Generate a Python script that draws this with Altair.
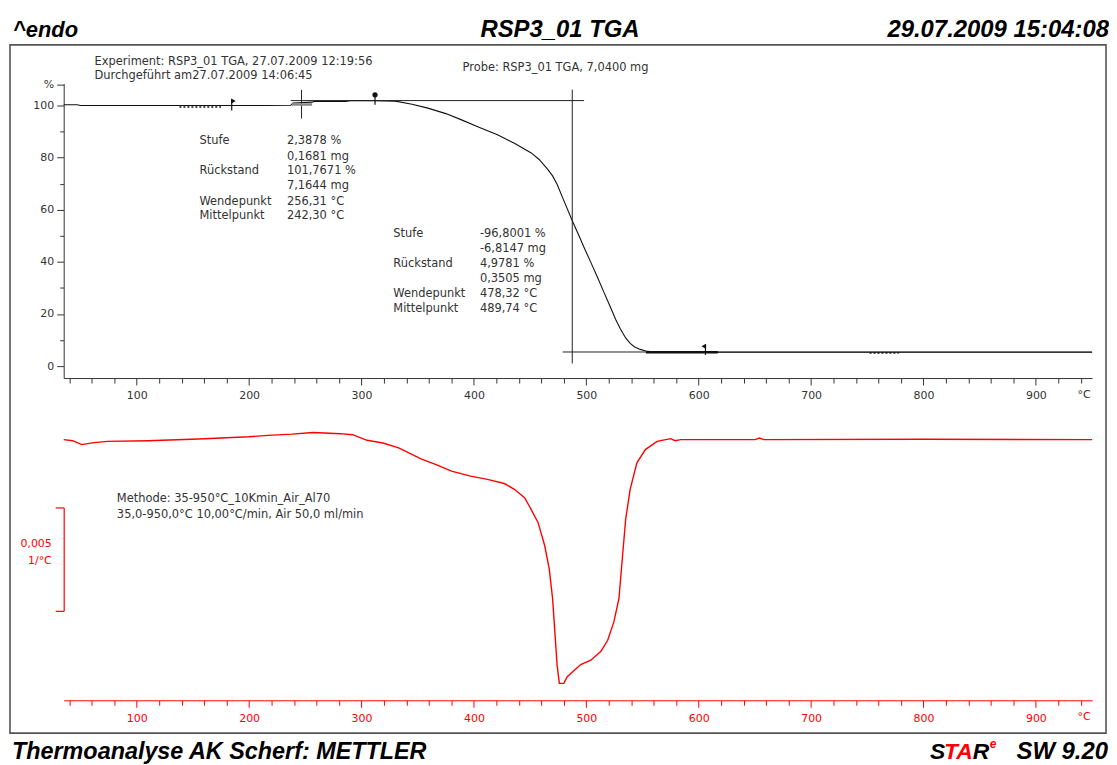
import altair as alt
import pandas as pd

# ---------------- data ----------------
# TGA curve: temperature (°C) and mass (%)
tga_temp = [35, 47, 50, 100, 140, 185, 215, 237, 239, 256, 258, 286, 290, 312, 330, 345,
            359, 375, 389, 405, 421, 436, 451, 458, 465.5, 470, 474, 480, 487.6, 493, 498,
            504, 510, 516, 521.5, 526, 530, 535, 539, 543, 548, 553, 560, 600, 700, 800, 950]
tga_pct = [100.3, 100.3, 100.0, 100.0, 100.0, 100.0, 100.0, 100.1, 101.0, 101.3, 101.6, 101.6,
           101.9, 101.9, 101.7, 100.5, 99.0, 96.9, 94.5, 91.6, 88.8, 85.5, 81.8, 79.3, 75.6,
           73.0, 69.8, 63.5, 55.7, 50.5, 45.5, 39.8, 34.0, 28.0, 22.6, 18.0, 14.5, 10.8, 8.7,
           7.3, 6.4, 5.8, 5.4, 5.3, 5.3, 5.3, 5.3]

# DTG curve: temperature (°C) and derivative (10^-3 1/°C)
dtg_temp = [35, 43, 51, 62, 74, 110, 155, 200, 217, 238, 257, 281, 292, 305, 319, 333, 353,
            368, 380, 397, 412, 427, 436, 445, 450, 457, 463, 467, 470, 472, 474, 476, 480,
            483, 495, 504, 513, 519, 524.5, 529, 532, 535, 539, 545, 552.5, 563, 575, 579,
            584, 650, 654, 658, 800, 950]
dtg_val = [0.00, -0.05, -0.24, -0.14, -0.08, -0.05, 0.03, 0.14, 0.21, 0.27, 0.35, 0.29, 0.24,
           -0.03, -0.16, -0.40, -0.93, -1.24, -1.52, -1.76, -1.92, -2.12, -2.40, -2.80, -3.28,
           -4.00, -5.13, -6.25, -7.69, -9.29, -10.90, -11.78, -11.78, -11.46, -10.87, -10.66,
           -10.23, -9.70, -8.81, -7.69, -5.77, -3.85, -2.40, -1.12, -0.48, -0.08, 0.05, -0.05,
           0.00, 0.00, 0.08, 0.00, 0.02, 0.00]

# evaluation lines (tangents / limits) in data units
seg_t1 = [237, 246.6, 487.5, 479]
seg_t2 = [498, 246.6, 487.5, 950]
seg_p1 = [101.9, 106.0, 106.1, 5.4]
seg_p2 = [101.9, 95.0, 1.0, 5.4]

# marker stems (flags / pin)
mk_t = [184.5, 312, 606]
mk_p1 = [98.1, 100.3, 4.3]
mk_p2 = [102.3, 104.1, 8.2]
mk_shape = ["triangle-right", "circle", "triangle-left"]
mk_tp = [186.0, 312, 604.5]
mk_pp = [101.7, 104.1, 7.6]

# result texts
res1_lab = ["Stufe", "Rückstand", "Wendepunkt", "Mittelpunkt"]
res1_lab_p = [86.3, 74.8, 63.1, 57.6]
res1_val = ["2,3878 %", "0,1681 mg", "101,7671 %", "7,1644 mg", "256,31 °C", "242,30 °C"]
res1_val_p = [86.3, 80.2, 74.8, 69.0, 63.1, 57.6]
res2_lab = ["Stufe", "Rückstand", "Wendepunkt", "Mittelpunkt"]
res2_lab_p = [50.6, 39.2, 27.8, 22.0]
res2_val = ["-96,8001 %", "-6,8147 mg", "4,9781 %", "0,3505 mg", "478,32 °C", "489,74 °C"]
res2_val_p = [50.6, 44.9, 39.2, 33.5, 27.8, 22.0]

x_ticks = list(range(40, 941, 20))
y_ticks = [0, 10, 20, 30, 40, 50, 60, 70, 80, 90, 100, 108]

# ---------------- layout / style ----------------
FONT = "DejaVu Sans"
HFONT = "Liberation Sans"
TXT = "#333333"
RED = "#ff0000"
W, H1, H2, GAP = 1034, 296, 282, 42
TS = 11.5

xs_top = alt.Scale(domain=[35, 950], nice=False, zero=False)
ys_top = alt.Scale(domain=[-4.6, 108.4], nice=False, zero=False)
xs_bot = alt.Scale(domain=[35, 950], nice=False, zero=False)
ys_bot = alt.Scale(domain=[-12.6, 0.96], nice=False, zero=False)

one = pd.DataFrame({"k": [0]})

tga = pd.DataFrame({"T": tga_temp, "P": tga_pct})
dtg = pd.DataFrame({"T": dtg_temp, "D": dtg_val})
segs = pd.DataFrame({"t1": seg_t1, "t2": seg_t2, "p1": seg_p1, "p2": seg_p2})
mks = pd.DataFrame({"t": mk_t, "p1": mk_p1, "p2": mk_p2})
mkp = pd.DataFrame({"t": mk_tp, "p": mk_pp, "s": mk_shape})

XA = alt.Axis(
    values=x_ticks, title=None, grid=False, labelOverlap=False, labelFlush=False,
    labelExpr="datum.value % 100 === 0 ? datum.label : ''",
    domainColor=TXT, tickColor=TXT, labelColor=TXT, labelFont=FONT, labelFontSize=11,
    tickSize={"condition": {"test": "datum.value % 100 === 0", "value": 7}, "value": 5},
    labelPadding=5)
YA = alt.Axis(
    values=y_ticks, title=None, grid=False, labelOverlap=False, labelFlush=False,
    labelExpr="datum.value === 108 ? '%' : (datum.value % 20 === 0 ? datum.label : '')",
    domainColor=TXT, tickColor=TXT, labelColor=TXT, labelFont=FONT, labelFontSize=11,
    tickSize={"condition": {"test": "datum.value % 20 === 0 || datum.value === 108", "value": 7},
              "value": 4},
    labelPadding=3)
XB = alt.Axis(
    values=x_ticks, title=None, grid=False, labelOverlap=False, labelFlush=False,
    labelExpr="datum.value % 100 === 0 ? datum.label : ''",
    domainColor=RED, tickColor=RED, labelColor=RED, labelFont=FONT, labelFontSize=11,
    tickSize={"condition": {"test": "datum.value % 100 === 0", "value": 7}, "value": 5},
    labelPadding=5)


def XT(f):
    return alt.X(f, type="quantitative", scale=xs_top, axis=XA)


def YT(f):
    return alt.Y(f, type="quantitative", scale=ys_top, axis=YA)


def XBt(f):
    return alt.X(f, type="quantitative", scale=xs_bot, axis=XB)


def YBt(f):
    return alt.Y(f, type="quantitative", scale=ys_bot, axis=None)


# ---------- top (TGA) panel ----------
frame = alt.Chart(one).mark_rect(fill="transparent", stroke="#555555", strokeWidth=1.6).encode(
    x=alt.value(-54), x2=alt.value(1048), y=alt.value(-39), y2=alt.value(653))
anchor = alt.Chart(one).mark_rect(opacity=0).encode(
    x=alt.value(-56), x2=alt.value(-55), y=alt.value(-74), y2=alt.value(-73))

tga_line = alt.Chart(tga).mark_line(color="#111111", strokeWidth=1.1).encode(
    x=XT("T"), y=YT("P"))

seg_layer = alt.Chart(segs).mark_rule(color="#222222", strokeWidth=1).encode(
    x=XT("t1"), x2="t2", y=YT("p1"), y2="p2")

step_gray = alt.Chart(pd.DataFrame({"a": [238], "b": [256], "p": [100.4]})).mark_rule(
    color="#888888", strokeWidth=2.5).encode(x=XT("a"), x2="b", y=YT("p"))
thick = alt.Chart(pd.DataFrame({"a": [553], "b": [617], "p": [5.3]})).mark_rule(
    color="#111111", strokeWidth=2.4).encode(x=XT("a"), x2="b", y=YT("p"))
dots = alt.Chart(pd.DataFrame({"a": [138, 752], "b": [175, 778], "p": [99.4, 5.0]})).mark_rule(
    color="#111111", strokeWidth=1.5, strokeDash=[2, 2]).encode(x=XT("a"), x2="b", y=YT("p"))

mk_stem = alt.Chart(mks).mark_rule(color="#111111", strokeWidth=1.2).encode(
    x=XT("t"), y=YT("p1"), y2="p2")
mk_head = alt.Chart(mkp).mark_point(filled=True, color="#111111", size=28, opacity=1).encode(
    x=XT("t"), y=YT("p"),
    shape=alt.Shape("s:N", scale=alt.Scale(domain=mk_shape, range=mk_shape), legend=None))


def txt_layer(labels, temps, pcts, xf, yf, color=TXT):
    df = pd.DataFrame({"txt": labels, "t": temps, "p": pcts})
    return alt.Chart(df).mark_text(align="left", baseline="middle", font=FONT, fontSize=TS,
                                   color=color).encode(x=xf("t"), y=yf("p"), text="txt:N")


r1l = txt_layer(res1_lab, [155.8] * 4, res1_lab_p, XT, YT)
r1v = txt_layer(res1_val, [233.6] * 6, res1_val_p, XT, YT)
r2l = txt_layer(res2_lab, [328.3] * 4, res2_lab_p, XT, YT)
r2v = txt_layer(res2_val, [405.3] * 6, res2_val_p, XT, YT)


def vtext(s, x, y, align="left", size=TS, color=TXT, font=FONT, bold=False, italic=False,
          baseline="middle"):
    kw = dict(align=align, baseline=baseline, font=font, fontSize=size, color=color)
    if bold:
        kw["fontWeight"] = "bold"
    if italic:
        kw["fontStyle"] = "italic"
    return alt.Chart(pd.DataFrame({"s": [s]})).mark_text(**kw).encode(
        x=alt.value(x), y=alt.value(y), text="s:N")


HB = dict(color="#000000", font=HFONT, bold=True, italic=True, baseline="alphabetic")
head = [
    vtext("^endo", -51, -47, size=22, **HB),
    vtext("RSP3_01 TGA", 499, -47, align="center", size=24, **HB),
    vtext("29.07.2009 15:04:08", 1051, -47, align="right", size=24, **HB),
    vtext("Thermoanalyse AK Scherf: METTLER", -52, 679, size=23.5, **HB),
    vtext("S", 871, 679, size=23, **HB),
    vtext("TA", 885, 679, size=23, **dict(HB, color=RED)),
    vtext("R", 914, 679, size=23, **HB),
    vtext("e", 931, 668, size=12, **dict(HB, color=RED)),
    vtext("SW 9.20", 1050, 679, align="right", size=24, **HB),
    vtext("Experiment: RSP3_01 TGA, 27.07.2009 12:19:56", 31, -22),
    vtext("Durchgeführt am27.07.2009 14:06:45", 31, -8),
    vtext("Probe: RSP3_01 TGA, 7,0400 mg", 401, -16),
    vtext("°C", 1026, H1 + 17, align="center", size=11),
]

top = alt.layer(frame, anchor, tga_line, seg_layer, step_gray, thick, dots, mk_stem, mk_head,
                r1l, r1v, r2l, r2v, *head).properties(width=W, height=H1)

# ---------- bottom (DTG) panel ----------
dtg_line = alt.Chart(dtg).mark_line(color=RED, strokeWidth=1.4).encode(
    x=XBt("T"), y=YBt("D"))

bar_df = pd.DataFrame({"lo": [-8.3], "hi": [-3.3]})
bar = alt.Chart(bar_df).mark_rule(color=RED, strokeWidth=1.2).encode(
    x=alt.value(0.5), y=YBt("lo"), y2="hi")
bar_ticks = alt.Chart(pd.DataFrame({"v": [-8.3, -3.3]})).mark_rule(
    color=RED, strokeWidth=1.2).encode(x=alt.value(-8), x2=alt.value(0.5), y=YBt("v"))
bar_txt = alt.Chart(pd.DataFrame({"s": ["0,005", "1/°C"], "v": [-5.05, -5.85]})).mark_text(
    align="right", baseline="middle", font=FONT, fontSize=11, color=RED).encode(
    x=alt.value(-12), y=YBt("v"), text="s:N")

meth = txt_layer(["Methode: 35-950°C_10Kmin_Air_Al70",
                  "35,0-950,0°C 10,00°C/min, Air 50,0 ml/min"],
                 [82.3, 82.3], [-2.88, -3.65], XBt, YBt)

degc_bot = vtext("°C", 1026, H2 + 17, align="center", color=RED, size=11)

bottom = alt.layer(dtg_line, bar, bar_ticks, bar_txt, meth, degc_bot).properties(
    width=W, height=H2)

chart = alt.vconcat(top, bottom, spacing=GAP, bounds="flush", padding=0).resolve_scale(
    x="independent", y="independent").configure_view(strokeOpacity=0, stroke="transparent")

chart.save("out.html", embed_options={"renderer": "svg", "actions": False})
